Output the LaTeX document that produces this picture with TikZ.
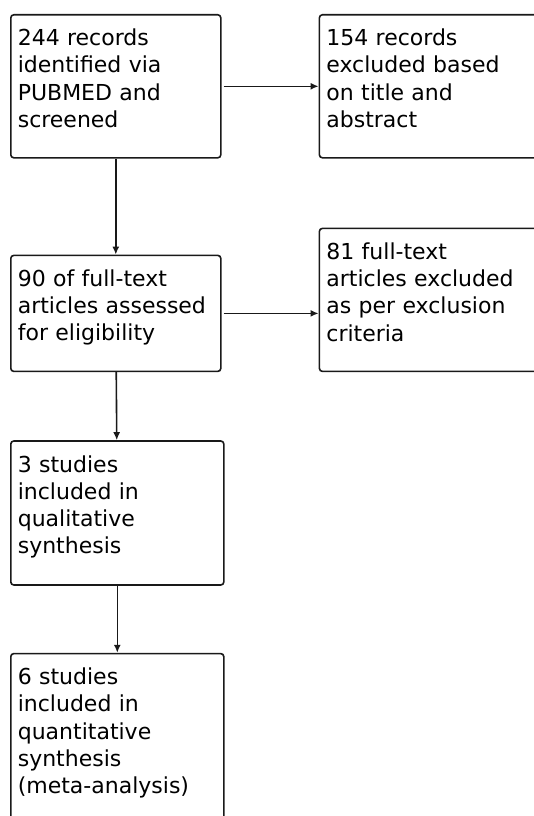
\documentclass[tikz,border=0pt]{standalone}
\usepackage{fontspec}
\setmainfont{DejaVu Sans}
\usetikzlibrary{arrows.meta,positioning}

\begin{document}
\begin{tikzpicture}[stagebox/.style={rectangle, draw=black!90, line width=1.6pt, rounded corners=3pt, align=left, inner xsep=7pt, inner ysep=0pt, text height=31pt, font=\fontsize{22}{27.2}\selectfont},
flowarrow/.style={-{Latex[length=8pt,width=7pt]}, line width=1.6pt, black!90}]

\useasboundingbox (0,0) rectangle (534pt,-816pt);

\node[stagebox, text width=196pt, text depth=112pt, anchor=north west] (found) at (10pt,-14pt) {244 records\\identified via\\PUBMED and\\screened};

\node[stagebox, text width=208pt, text depth=112pt, right=97pt of found.north east, anchor=north west] (excl1) {154 records\\excluded based\\on title and\\abstract};

\node[stagebox, text width=196pt, text depth=85pt, below=96pt of found] (fulltext) {90 of full-text\\articles assessed\\for eligibility};

\node[stagebox, text width=208pt, text depth=112pt, right=97pt of fulltext.south east, anchor=south west] (excl2) {81 full-text\\articles excluded\\as per exclusion\\criteria};

\node[stagebox, text width=199pt, text depth=113pt, below=68pt of fulltext.south west, anchor=north west] (qual) {3 studies\\included in\\qualitative\\synthesis};

\node[stagebox, text width=199pt, text depth=160pt, below=67pt of qual] (quant) {6 studies\\included in\\quantitative\\synthesis\\(meta-analysis)};

\draw[flowarrow, shorten <=2pt] (found) -- (excl1);

\draw[flowarrow] (found) -- (fulltext);

\draw[flowarrow, shorten <=2pt] (fulltext.east) -- (fulltext.east -| excl2.west);

\draw[flowarrow] (fulltext) -- (qual);

\draw[flowarrow] (qual) -- (quant);

\end{tikzpicture}
\end{document}
